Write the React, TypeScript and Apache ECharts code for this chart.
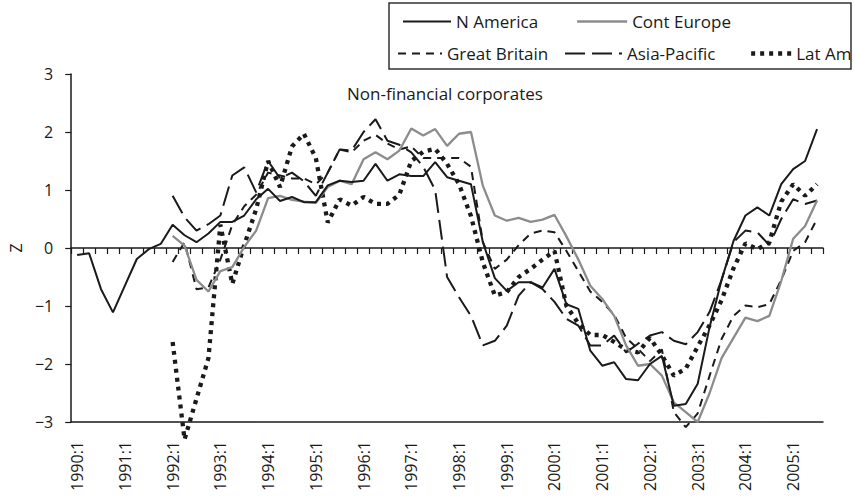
import React, { useEffect, useRef } from 'react';
import * as echarts from 'echarts';

const categories = [
  '1990:1','1990:2','1990:3','1990:4','1991:1','1991:2','1991:3','1991:4',
  '1992:1','1992:2','1992:3','1992:4','1993:1','1993:2','1993:3','1993:4',
  '1994:1','1994:2','1994:3','1994:4','1995:1','1995:2','1995:3','1995:4',
  '1996:1','1996:2','1996:3','1996:4','1997:1','1997:2','1997:3','1997:4',
  '1998:1','1998:2','1998:3','1998:4','1999:1','1999:2','1999:3','1999:4',
  '2000:1','2000:2','2000:3','2000:4','2001:1','2001:2','2001:3','2001:4',
  '2002:1','2002:2','2002:3','2002:4','2003:1','2003:2','2003:3','2003:4',
  '2004:1','2004:2','2004:3','2004:4','2005:1','2005:2','2005:3'
];

const nAmerica = [
  -0.12, -0.09, -0.71, -1.11, -0.65, -0.19, -0.02, 0.07, 0.40, 0.22,
  0.10, 0.25, 0.45, 0.45, 0.56, 0.84, 1.02, 0.81, 0.88, 0.79,
  0.79, 1.08, 1.16, 1.14, 1.16, 1.45, 1.16, 1.27, 1.24, 1.24,
  1.48, 1.22, 1.16, 1.10, 0.10, -0.52, -0.74, -0.59, -0.59, -0.68,
  -0.36, -0.97, -1.05, -1.77, -2.03, -1.97, -2.26, -2.28, -2.00, -1.86,
  -2.72, -2.69, -2.34, -1.36, -0.55, 0.12, 0.56, 0.70, 0.56, 1.10,
  1.36, 1.50, 2.05
];

const contEurope = [
  null, null, null, null, null, null, null, null, 0.21, 0.04,
  -0.55, -0.75, -0.40, -0.33, 0.02, 0.30, 0.86, 0.90, 0.83, 0.80,
  0.78, 1.05, 1.16, 1.10, 1.53, 1.65, 1.53, 1.68, 2.06, 1.94,
  2.05, 1.76, 1.97, 2.00, 1.07, 0.56, 0.47, 0.52, 0.45, 0.49,
  0.57, 0.20, -0.20, -0.65, -0.88, -1.17, -1.68, -2.03, -2.00, -2.20,
  -2.66, -2.83, -3.00, -2.50, -1.90, -1.55, -1.20, -1.26, -1.17, -0.57,
  0.16, 0.38, 0.82
];

const greatBritain = [
  null, null, null, null, null, null, null, null, -0.24, 0.10,
  -0.71, -0.68, -0.20, 0.40, 0.72, 0.92, 1.30, 1.25, 1.20, 1.20,
  1.10, 1.30, 1.70, 1.65, 1.85, 1.95, 1.80, 1.70, 1.75, 1.55,
  1.55, 1.55, 1.55, 1.40, 0.10, -0.36, -0.20, 0.05, 0.25, 0.30,
  0.27, -0.05, -0.40, -0.75, -0.93, -1.15, -1.55, -1.74, -1.95, -1.75,
  -2.83, -3.09, -2.85, -2.20, -1.57, -1.17, -0.99, -1.02, -0.97, -0.55,
  -0.05, 0.10, 0.50
];

const asiaPacific = [
  null, null, null, null, null, null, null, null, 0.90, 0.53,
  0.30, 0.41, 0.56, 1.25, 1.39, 0.96, 1.50, 1.20, 1.30, 1.15,
  0.90, 1.30, 1.70, 1.68, 2.00, 2.22, 1.85, 1.78, 1.65, 1.40,
  1.00, -0.50, -0.85, -1.17, -1.68, -1.60, -1.34, -0.82, -0.59, -0.71,
  -0.93, -1.22, -1.34, -1.68, -1.68, -1.51, -1.80, -1.65, -1.51, -1.45,
  -1.60, -1.66, -1.45, -1.10, -0.55, 0.10, 0.30, 0.27, 0.05, 0.50,
  0.84, 0.76, 0.82
];

const latAm = [
  null, null, null, null, null, null, null, null, -1.62, -3.30,
  -2.60, -1.90, 0.40, -0.62, 0.05, 0.67, 1.50, 1.05, 1.75, 1.97,
  1.55, 0.44, 0.84, 0.73, 0.88, 0.76, 0.76, 0.92, 1.50, 1.66,
  1.71, 1.45, 1.10, 0.55, -0.25, -0.82, -0.76, -0.50, -0.36, -0.20,
  -0.05, -1.00, -1.30, -1.50, -1.50, -1.62, -1.75, -1.80, -1.55, -1.85,
  -2.20, -2.08, -1.70, -1.33, -0.90, -0.35, 0.08, -0.02, 0.10, 0.80,
  1.10, 0.90, 1.10
];

const FONT = 'Open Sans';
const BLACK = '#1a1a1a';
const GRAY = '#8c8c8c';

export default function App() {
  const ref = useRef<HTMLDivElement>(null);
  useEffect(() => {
    document.body.style.margin = '0';
    const chart = echarts.init(ref.current!, null, { renderer: 'svg' });
    const legendText = { fontFamily: FONT, fontSize: 17, color: BLACK };
    const mkLegend = (name: string, left: number, top: number, w: number) => ({
      data: [name],
      left,
      top,
      padding: 0,
      itemWidth: w,
      itemHeight: 14,
      itemGap: 0,
      textStyle: legendText,
      itemStyle: { opacity: 0 },
      lineStyle: { width: 'inherit' },
      selectedMode: false,
    });
    chart.setOption({
      animation: false,
      backgroundColor: '#ffffff',
      title: {
        text: 'Non-financial corporates',
        left: 347,
        top: 85,
        padding: 0,
        textStyle: { fontFamily: FONT, fontSize: 17, fontWeight: 'normal', color: BLACK },
      },
      legend: [
        mkLegend('N America', 402, 13, 48),
        mkLegend('Cont Europe', 576, 13, 50),
        mkLegend('Great Britain', 397, 45, 44),
        mkLegend('Asia-Pacific', 564, 45, 57),
        mkLegend('Lat Am', 749, 45, 40),
      ],
      graphic: [
        {
          type: 'rect',
          shape: { x: 389, y: 3, width: 462, height: 66 },
          style: { fill: 'none', stroke: '#333', lineWidth: 1.5 },
          z: 10,
        },
      ],
      grid: { left: 68, right: 31, top: 74, bottom: 75, containLabel: false },
      xAxis: [
        {
          type: 'category',
          data: categories,
          boundaryGap: true,
          position: 'bottom',
          axisLine: { onZero: false, lineStyle: { color: BLACK, width: 1.5 } },
          axisTick: { show: false },
          axisLabel: {
            interval: 3,
            rotate: 90,
            margin: 19,
            fontFamily: FONT,
            fontSize: 16,
            color: BLACK,
          },
          splitLine: { show: false },
        },
        {
          type: 'category',
          data: categories,
          boundaryGap: true,
          position: 'top',
          axisLine: { onZero: true, lineStyle: { color: BLACK, width: 1.5 } },
          axisTick: { show: true, inside: true, length: 6, interval: 0, lineStyle: { color: BLACK, width: 1.2 } },
          axisLabel: { show: false },
          splitLine: { show: false },
        },
      ],
      yAxis: {
        type: 'value',
        min: -3,
        max: 3,
        interval: 1,
        name: 'Z',
        nameLocation: 'middle',
        nameGap: 46,
        nameTextStyle: { fontFamily: FONT, fontSize: 16, color: BLACK },
        axisLine: { show: true, lineStyle: { color: BLACK, width: 1.5 } },
        axisTick: { show: true, length: 6, lineStyle: { color: BLACK, width: 1.2 } },
        axisLabel: {
          margin: 18,
          fontFamily: FONT,
          fontSize: 16,
          color: BLACK,
          formatter: (v: number) => String(v).replace('-', '\u2212'),
        },
        splitLine: { show: false },
      },
      series: [
        {
          name: 'Lat Am', type: 'line', data: latAm, symbol: 'none', clip: false,
          lineStyle: { color: BLACK, width: 4.3, type: [4, 5] }, itemStyle: { color: BLACK },
        },
        {
          name: 'Great Britain', type: 'line', data: greatBritain, symbol: 'none', clip: false,
          lineStyle: { color: BLACK, width: 2, type: [8, 6] }, itemStyle: { color: BLACK },
        },
        {
          name: 'Asia-Pacific', type: 'line', data: asiaPacific, symbol: 'none',
          lineStyle: { color: BLACK, width: 2, type: [20, 7] }, itemStyle: { color: BLACK },
        },
        {
          name: 'Cont Europe', type: 'line', data: contEurope, symbol: 'none',
          lineStyle: { color: GRAY, width: 2.3 }, itemStyle: { color: GRAY },
        },
        {
          name: 'N America', type: 'line', data: nAmerica, symbol: 'none',
          lineStyle: { color: BLACK, width: 2 }, itemStyle: { color: BLACK },
        },
      ],
    });
    return () => chart.dispose();
  }, []);
  return <div ref={ref} style={{ width: 854, height: 497 }} />;
}
